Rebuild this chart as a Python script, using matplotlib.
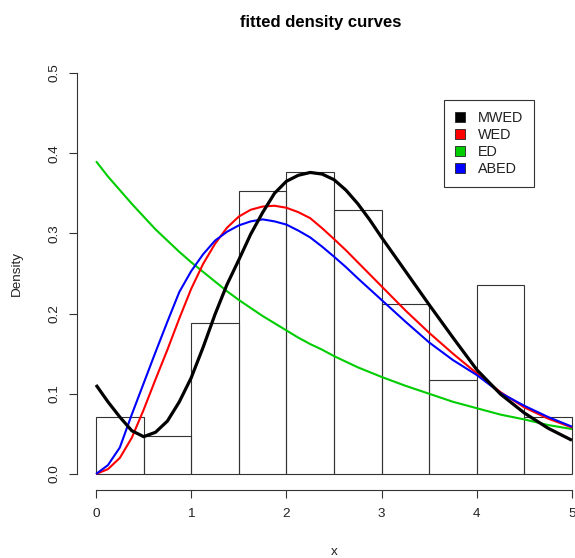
import matplotlib
matplotlib.use("Agg")
import matplotlib.pyplot as plt
import numpy as np
from matplotlib.patches import Patch

# histogram: bin edges and counts (n = 85)
bin_edges = [0, 0.5, 1, 1.5, 2, 2.5, 3, 3.5, 4, 4.5, 5]
counts = [3, 2, 8, 15, 16, 14, 9, 5, 10, 3]

# fitted density curves
x_grid = [0, 0.125, 0.25, 0.375, 0.5, 0.625, 0.75, 0.875, 1, 1.125, 1.25, 1.375,
          1.5, 1.625, 1.75, 1.875, 2, 2.125, 2.25, 2.375, 2.5, 2.625, 2.75, 2.875,
          3, 3.25, 3.5, 3.75, 4, 4.25, 4.5, 4.75, 5]
mwed = [0.111, 0.090, 0.071, 0.054, 0.0465, 0.052, 0.066, 0.090, 0.120, 0.158, 0.199, 0.236,
        0.267, 0.299, 0.326, 0.350, 0.365, 0.3725, 0.376, 0.374, 0.367, 0.354, 0.337, 0.317,
        0.295, 0.253, 0.211, 0.170, 0.130, 0.0995, 0.076, 0.057, 0.042]
wed = [0.0, 0.006, 0.020, 0.045, 0.080, 0.118, 0.155, 0.194, 0.231, 0.262, 0.287, 0.307,
       0.321, 0.3295, 0.3335, 0.3345, 0.332, 0.3265, 0.319, 0.3065, 0.293, 0.279, 0.264, 0.249,
       0.234, 0.204, 0.176, 0.150, 0.1255, 0.102, 0.083, 0.069, 0.058]
ed = [0.390, 0.371, 0.354, 0.337, 0.321, 0.305, 0.291, 0.277, 0.264, 0.252, 0.240, 0.228,
      0.217, 0.207, 0.197, 0.188, 0.179, 0.170, 0.162, 0.155, 0.147, 0.140, 0.133, 0.127,
      0.121, 0.110, 0.100, 0.090, 0.082, 0.074, 0.068, 0.061, 0.056]
abed = [0.0, 0.011, 0.033, 0.074, 0.113, 0.152, 0.190, 0.227, 0.253, 0.274, 0.291, 0.302,
        0.310, 0.315, 0.3175, 0.315, 0.311, 0.3035, 0.295, 0.2835, 0.271, 0.258, 0.244, 0.2305,
        0.217, 0.190, 0.164, 0.142, 0.1234, 0.101, 0.085, 0.071, 0.059]

labels = ["MWED", "WED", "ED", "ABED"]
colors = ["#000000", "#FF0000", "#00CD00", "#0000FF"]

W, H = 575, 558
fig = plt.figure(figsize=(W / 100, H / 100), dpi=100)
plt.rcParams["font.family"] = ["Liberation Sans", "DejaVu Sans"]

# plot region in pixels (R style, 4% padding on both axes)
left_px, right_px, top_px, bot_px = 77, 591, 57, 490
ax = fig.add_axes([left_px / W, 1 - bot_px / H, (right_px - left_px) / W, (bot_px - top_px) / H])
ax.set_xlim(-0.2, 5.2)
ax.set_ylim(-0.02, 0.52)

edges = np.array(bin_edges)
widths = np.diff(edges)
dens = np.array(counts) / (np.sum(counts) * widths)
ax.bar(edges[:-1], dens, width=widths, align="edge", fill=False,
       edgecolor="#333333", linewidth=0.8)

line_kw = dict(solid_capstyle="butt", solid_joinstyle="round")
ax.plot(x_grid, ed, color=colors[2], lw=1.5, **line_kw)
ax.plot(x_grid, wed, color=colors[1], lw=1.5, **line_kw)
ax.plot(x_grid, abed, color=colors[3], lw=1.5, **line_kw)
ax.plot(x_grid, mwed, color=colors[0], lw=2.3, **line_kw)

for s in ["top", "right"]:
    ax.spines[s].set_visible(False)
ax.spines["left"].set_bounds(0, 0.5)
ax.spines["bottom"].set_bounds(0, 5)
for s in ["left", "bottom"]:
    ax.spines[s].set_color("#333333")
    ax.spines[s].set_linewidth(0.8)

fs = 9.7
ax.set_xticks([0, 1, 2, 3, 4, 5])
ax.set_xticklabels(["0", "1", "2", "3", "4", "5"])
ax.set_yticks([0, 0.1, 0.2, 0.3, 0.4, 0.5])
ax.set_yticklabels(["0.0", "0.1", "0.2", "0.3", "0.4", "0.5"], rotation=90, va="center")
ax.tick_params(axis="both", direction="out", length=5.8, width=0.8, color="#333333",
               labelsize=fs, labelcolor="#222222")
ax.tick_params(axis="x", pad=7)
ax.tick_params(axis="y", pad=6)

fig.text(321 / W, 1 - 22 / H, "fitted density curves", ha="center", va="center",
         fontsize=12, fontweight="bold")
fig.text(334 / W, 1 - 552 / H, "x", ha="center", va="center", fontsize=fs, color="#222222")
fig.text(17 / W, 1 - 273 / H, "Density", ha="center", va="center", rotation=90,
         fontsize=fs, color="#222222")

handles = [Patch(facecolor=c, edgecolor="#222222", linewidth=0.6) for c in colors]
leg = ax.legend(handles, labels, loc="upper left", bbox_to_anchor=(444 / W, 1 - 100 / H),
                bbox_transform=fig.transFigure, borderaxespad=0, fontsize=10.4,
                handlelength=0.7, handleheight=0.7, handletextpad=0.9,
                labelspacing=0.22, borderpad=0.75, fancybox=False, framealpha=1)
leg.get_frame().set_edgecolor("#333333")
leg.get_frame().set_linewidth(0.8)
for t in leg.get_texts():
    t.set_color("#222222")

fig.savefig("out.png", dpi=100)
